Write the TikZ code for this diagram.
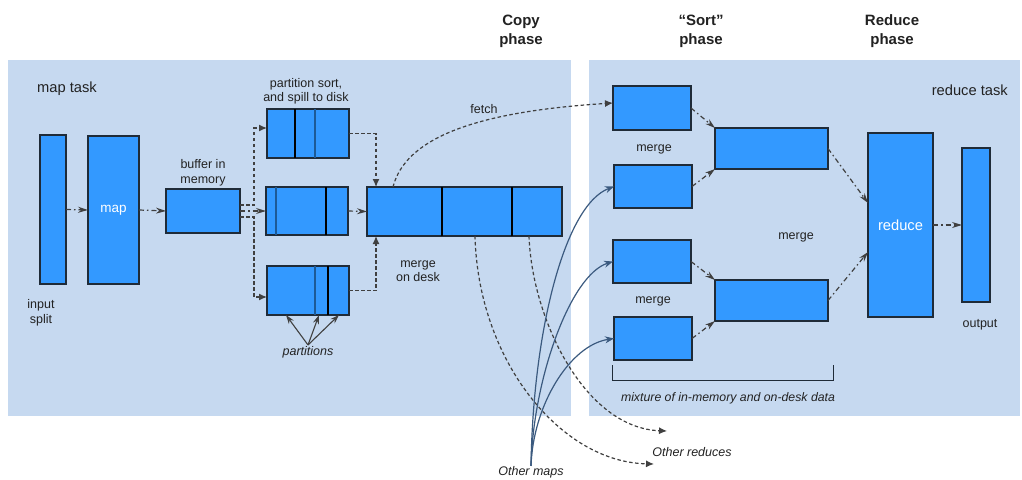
\documentclass[tikz,border=0pt]{standalone}
\usepackage{fontspec}
\setmainfont{Liberation Sans}
\usetikzlibrary{arrows.meta}
\definecolor{panelBlue}{HTML}{C6D9F0}
\definecolor{boxBlue}{HTML}{3399FF}
\definecolor{boxLine}{HTML}{1F2B38}
\definecolor{darkDiv}{HTML}{1D5A96}
\definecolor{arrowGray}{HTML}{404040}
\definecolor{mapLine}{HTML}{3B5A7F}
\definecolor{textDark}{HTML}{222222}

\tikzset{
    blk/.style={draw=boxLine, fill=boxBlue, line width=1.2pt, inner sep=0pt, outer sep=0pt},
    lbl/.style={font=\fontsize{12.5}{14.5}\selectfont, text=textDark, align=center, inner sep=0pt},
    phaselbl/.style={font=\fontsize{15}{19}\selectfont\bfseries, text=textDark, align=center, inner sep=0pt},
    inlbl/.style={font=\fontsize{13.5}{16}\selectfont, text=white},
    dsh/.style={draw=arrowGray, line width=1.2pt, dash pattern=on 3.5pt off 2.5pt, -{Latex[length=8pt,width=7pt]}},
    dashdot/.style={draw=arrowGray, line width=1.2pt, dash pattern=on 5pt off 3pt on 1.5pt off 3pt, -{Stealth[length=10pt,width=6pt]}},
    maparrow/.style={draw=mapLine, line width=1.2pt, -{Stealth[length=9pt,width=7pt]}},
    divline/.style={draw=black, line width=1.1pt},
    divdark/.style={draw=darkDiv, line width=2pt}
}

\begin{document}
\begin{tikzpicture}[x=1pt, y=-1pt]
    \useasboundingbox (0,0) rectangle (1022,479);
    \fill[white] (0,0) rectangle (1022,479);

    % the two task panels
    \fill[panelBlue] (8,60) rectangle (571,416);
    \fill[panelBlue] (589,60) rectangle (1020,416);

    \node[phaselbl] (copyph) at (521,31) {Copy\\phase};
    \node[phaselbl] (sortph) at (701,31) {“Sort”\\phase};
    \node[phaselbl] (redph) at (892,31) {Reduce\\phase};

    \node[lbl, font=\fontsize{14.7}{17}\selectfont, anchor=west] (maptask) at (37,89) {map task};
    \node[lbl, font=\fontsize{14.7}{17}\selectfont, anchor=east] (redtask) at (1008,90) {reduce task};

    % map side
    \node[blk, minimum width=26pt, minimum height=149pt] (split) at (53,209.5) {};
    \node[blk, minimum width=51pt, minimum height=148pt, inlbl] (mapbox) at (113.5,210) {map};
    \node[blk, minimum width=74pt, minimum height=44pt] (buf) at (203,211) {};
    \node[blk, minimum width=82pt, minimum height=49pt] (p1) at (308,133.5) {};
    \node[blk, minimum width=82pt, minimum height=48pt] (p2) at (307,211) {};
    \node[blk, minimum width=82pt, minimum height=49pt] (p3) at (308,290.5) {};
    \node[blk, minimum width=195pt, minimum height=49pt] (mg) at (464.5,211.5) {};

    \foreach \x/\t/\b in {295/109/158, 326/187/235, 328/266/315, 442/187/236, 512/187/236}
        \draw[divline] (\x,\t) -- (\x,\b);
    \foreach \x/\t/\b in {315/109/158, 276/187/235, 315/266/315}
        \draw[divdark] (\x,\t) -- (\x,\b);

    \node[lbl] (splitlbl) at (41,313) {input\\split};
    \node[lbl] (buflbl) at (203,173) {buffer in\\memory};
    \node[lbl] (spilllbl) at (306,91.5) {partition sort,\\and spill to disk};
    \node[lbl] (desklbl) at (418,271) {merge\\on desk};
    \node[lbl] (fetchlbl) at (484,109) {fetch};
    \node[lbl, font=\fontsize{12.5}{14.5}\selectfont\itshape] (parts) at (308,352) {partitions};

    \draw[dashdot] (split.east) -- (mapbox.west);
    \draw[dashdot] (mapbox.east) -- (buf.west);
    \draw[dsh] ([yshift=6pt]buf.east) -- ++(14,0) |- ([yshift=5.5pt]p1.west);
    \draw[dashdot] (buf.east) -- (p2.west);
    \draw[dsh] ([yshift=-6pt]buf.east) -- ++(14,0) |- ([yshift=-6.5pt]p3.west);
    \draw[dsh] (p1.east) -| ([xshift=9pt]mg.north west);
    \draw[dashdot] (p2.east) -- (mg.west);
    \draw[dsh] (p3.east) -| ([xshift=9pt]mg.south west);

    \foreach \dx in {-22,11,31}
        \draw[draw=arrowGray, line width=1.1pt, -{Stealth[length=9pt,width=6pt]}] ([yshift=1pt]parts.north) -- ([xshift=\dx pt]p3.south);

    % reduce side
    \node[blk, minimum width=78pt, minimum height=44pt] (r1) at (652,108) {};
    \node[blk, minimum width=78pt, minimum height=43pt] (r2) at (653,186.5) {};
    \node[blk, minimum width=78pt, minimum height=43pt] (r3) at (652,261.5) {};
    \node[blk, minimum width=78pt, minimum height=43pt] (r4) at (653,338.5) {};
    \node[blk, minimum width=113pt, minimum height=41pt] (m1) at (771.5,148.5) {};
    \node[blk, minimum width=113pt, minimum height=41pt] (m2) at (771.5,300.5) {};
    \node[blk, minimum width=65pt, minimum height=184pt, inlbl, font=\fontsize{14.7}{17}\selectfont] (rd) at (900.5,225) {reduce};
    \node[blk, minimum width=28pt, minimum height=154pt] (outp) at (976,225) {};

    \node[lbl] (merge1) at (654,149) {merge};
    \node[lbl] (merge2) at (653,301) {merge};
    \node[lbl] (merge3) at (796,237) {merge};
    \node[lbl] (outlbl) at (980,325) {output};
    \node[lbl, font=\fontsize{12.3}{14.5}\selectfont\itshape] (mixlbl) at (728,398) {mixture of in-memory and on-desk data};

    \draw[dashdot] (r1.east) -- (m1.north west);
    \draw[dashdot] (r2.east) -- (m1.south west);
    \draw[dashdot] (r3.east) -- (m2.north west);
    \draw[dashdot] (r4.east) -- (m2.south west);
    \draw[dashdot] (m1.east) -- ([yshift=22pt]rd.west);
    \draw[dashdot] (m2.east) -- ([yshift=-27pt]rd.west);
    \draw[dashdot] (rd.east) -- (outp.west);

    \draw[draw=boxLine, line width=1pt] (612,365) -- (612,380) -- (833,380) -- (833,365);

    % copy phase
    \draw[dsh] ([xshift=26pt]mg.north west) .. controls (405,140) and (470,112) .. ([yshift=5pt]r1.west);

    \node[lbl, font=\fontsize{12.5}{14.5}\selectfont\itshape] (omaps) at (531,472) {Other maps};
    \node[lbl, font=\fontsize{12.5}{14.5}\selectfont\itshape] (oreds) at (692,452) {Other reduces};
    \coordinate (redA) at (654,464);
    \coordinate (redB) at (667,431);

    \draw[dsh] ([xshift=108pt]mg.south west) .. controls (478,360) and (560,462) .. (redA);
    \draw[dsh] ([xshift=162pt]mg.south west) .. controls (532,320) and (585,428) .. (redB);

    \draw[maparrow] (omaps.north) .. controls (533,330) and (565,205) .. (r2.west);
    \draw[maparrow] (omaps.north) .. controls (533,380) and (570,275) .. (r3.west);
    \draw[maparrow] (omaps.north) .. controls (533,405) and (570,345) .. (r4.west);
\end{tikzpicture}
\end{document}
